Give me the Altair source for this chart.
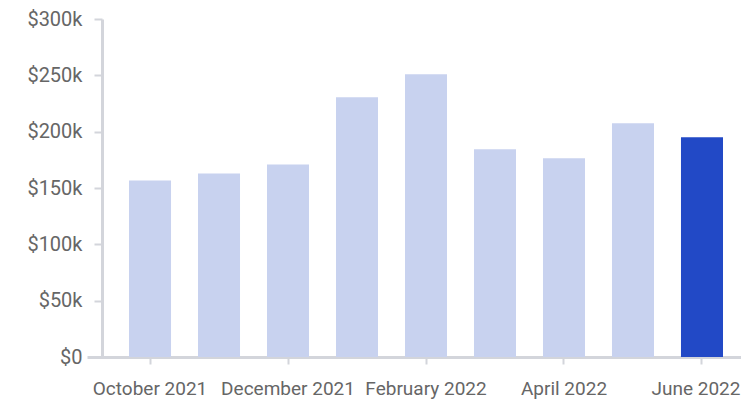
import altair as alt
import pandas as pd

months = ["October 2021", "November 2021", "December 2021", "January 2022",
          "February 2022", "March 2022", "April 2022", "May 2022", "June 2022"]
values = [156700, 162900, 170900, 230600, 251000, 184300, 176300, 207400, 195000]
shown_months = ["October 2021", "December 2021", "February 2022", "April 2022", "June 2022"]
y_ticks = [0, 50000, 100000, 150000, 200000, 250000, 300000]
highlight = "June 2022"

df = pd.DataFrame({"month": months, "value": values})

FONT = "Roboto, sans-serif"
AXIS_GRAY = "#d3d5db"
LABEL = "#666666"

chart = alt.Chart(df).mark_bar().encode(
    x=alt.X("month:N", sort=months,
            scale=alt.Scale(paddingInner=0.391, paddingOuter=0.4348, align=0.7),
            axis=alt.Axis(values=shown_months, title=None, labelAngle=0,
                          domainColor=AXIS_GRAY, domainWidth=3,
                          tickColor=AXIS_GRAY, tickWidth=2, tickSize=7,
                          labelPadding=15, labelFont=FONT, labelFontSize=19,
                          labelOffset={"condition": {"test": "datum.label == 'June 2022'", "value": -6},
                                       "value": 0},
                          labelColor=LABEL, grid=False, labelOverlap=False)),
    y=alt.Y("value:Q", scale=alt.Scale(domain=[0, 300000], nice=False),
            axis=alt.Axis(values=y_ticks, title=None, offset=-15,
                          labelExpr="datum.value == 0 ? '$0' : '$' + (datum.value/1000) + 'k'",
                          domainColor=AXIS_GRAY, domainWidth=3,
                          tickColor=AXIS_GRAY, tickWidth=2, tickSize=8,
                          labelPadding=12, labelFont=FONT, labelFontSize=20,
                          labelColor=LABEL, grid=False)),
    color=alt.condition(alt.datum.month == highlight,
                        alt.value("#2249c6"), alt.value("#c8d2ef")),
).properties(
    width=654, height=338,
    autosize=alt.AutoSizeParams(type="none"),
    padding={"left": 79, "top": 11, "right": 0, "bottom": 42},
).configure_view(stroke=None)

chart.save("out.html", embed_options={"renderer": "svg", "actions": False})
